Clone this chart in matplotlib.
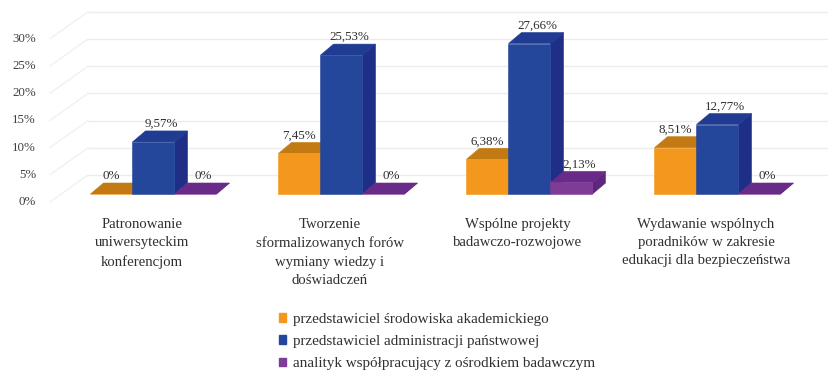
"""Pseudo-3D clustered bars: roles involved in each form of cooperation."""

import matplotlib.pyplot as plt
from matplotlib.patches import Patch

plt.rcParams["font.family"] = ["Liberation Serif", "DejaVu Serif"]

categories = [
    "Patronowanie\nuniwersyteckim\nkonferencjom",
    "Tworzenie\nsformalizowanych forów\nwymiany wiedzy i\ndoświadczeń",
    "Wspólne projekty\nbadawczo-rozwojowe",
    "Wydawanie wspólnych\nporadników w zakresie\nedukacji dla bezpieczeństwa",
]
series_names = [
    "przedstawiciel środowiska akademickiego",
    "przedstawiciel administracji państwowej",
    "analityk współpracujący z ośrodkiem badawczym",
]
academic = [0, 7.45, 6.38, 8.51]
government = [9.57, 25.53, 27.66, 12.77]
analyst = [0, 0, 2.13, 0]
value_labels = [
    ["0%", "7,45%", "6,38%", "8,51%"],
    ["9,57%", "25,53%", "27,66%", "12,77%"],
    ["0%", "0%", "2,13%", "0%"],
]
y_ticks = [0, 5, 10, 15, 20, 25, 30]

front_colors = ["#F3981C", "#24479C", "#7F3C97"]
top_colors = ["#C47A12", "#1F3C92", "#6A2A88"]
side_colors = ["#B06C10", "#1F2E86", "#60267E"]

WIDTH, HEIGHT = 829, 370
PX_X = 188.0  # pixels per category
PX_Y = 5.44  # pixels per percent
X0, Y0 = 153.5, 194.0  # pixel of first blue bar centre, bar floor

BAR_W = 42 / PX_X
DEPTH_X = 13 / PX_X
DEPTH_Y = 11 / PX_Y

fig = plt.figure(figsize=(WIDTH / 100, HEIGHT / 100), dpi=100)
ax = fig.add_axes([0, 0, 1, 1])
ax.set_xlim(-X0 / PX_X, (WIDTH - X0) / PX_X)
ax.set_ylim(-(HEIGHT - Y0) / PX_Y, Y0 / PX_Y)
ax.axis("off")

# walls: front edge of the floor sits lower and further left than the back wall
wall_left = (50 - X0) / PX_X
wall_back = (88 - X0) / PX_X
floor_front = -8 / PX_Y
floor_back = 19 / PX_Y
for tick in y_ticks:
    ax.plot([wall_left, wall_back], [tick + floor_front, tick + floor_back],
            color="#f1f1f1", lw=1, zorder=1)
    ax.plot([wall_back, ax.get_xlim()[1]], [tick + floor_back] * 2,
            color="#ececec", lw=1, zorder=1)
    ax.text((36 - X0) / PX_X, tick + floor_front, f"{tick}%", ha="right", va="center",
            fontsize=9.3, color="#404040")

label_shift = [0, 8 / PX_X, 8 / PX_X]
for i, label in enumerate(categories):
    ax.text(i - 11.5 / PX_X, -24 / PX_Y, label, ha="center", va="top", fontsize=10.6,
            color="#303030", linespacing=1.52)

for i in range(len(categories)):
    for s, values in enumerate([academic, government, analyst]):
        v = values[i]
        x0 = i + (s - 1.5) * BAR_W
        x1 = x0 + BAR_W
        # draw left to right so each bar covers its left neighbour's depth
        ax.fill([x1, x1 + DEPTH_X, x1 + DEPTH_X, x1],
                [0, DEPTH_Y, v + DEPTH_Y, v],
                color=side_colors[s], lw=0.4, zorder=3 + s)
        ax.fill([x0, x1, x1 + DEPTH_X, x0 + DEPTH_X],
                [v, v, v + DEPTH_Y, v + DEPTH_Y],
                color=top_colors[s], lw=0.4, zorder=3 + s)
        ax.fill([x0, x1, x1, x0], [0, 0, v, v],
                color=front_colors[s], lw=0.4, zorder=3 + s)
        ax.text((x0 + x1) / 2 + label_shift[s], v + DEPTH_Y + 1 / PX_Y,
                value_labels[s][i], ha="center", va="bottom", fontsize=9.4,
                color="#303030", zorder=8)

handles = [Patch(color=c, label=n) for c, n in zip(front_colors, series_names)]
ax.legend(handles=handles, loc="upper left",
          bbox_to_anchor=(279 / WIDTH, 1 - 313 / HEIGHT), frameon=False,
          fontsize=10.9, handlelength=0.48, handleheight=0.48, handletextpad=0.46,
          labelspacing=0.6, labelcolor="#303030", borderpad=0, borderaxespad=0)

fig.savefig("out.png", dpi=100)
